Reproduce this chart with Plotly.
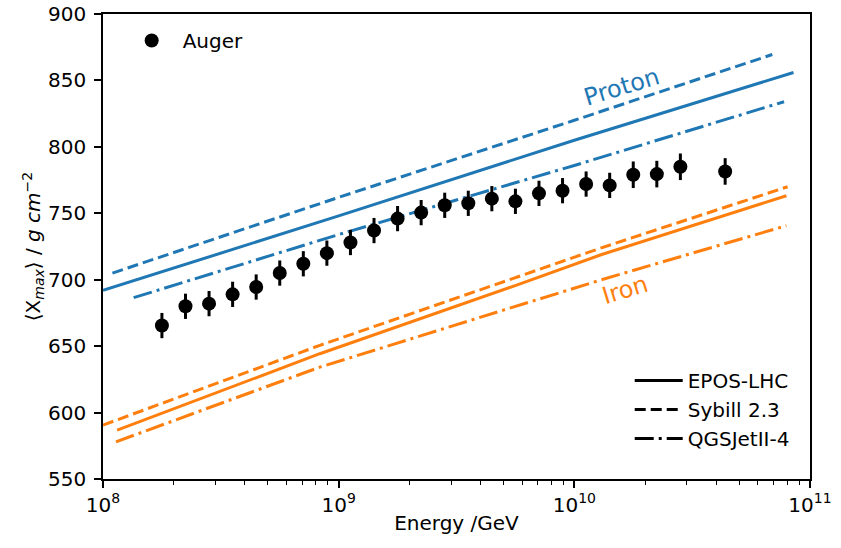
import numpy as np
import plotly.graph_objects as go

# Auger data
auger_logE = [8.25, 8.35, 8.45, 8.55, 8.65, 8.75, 8.85, 8.95, 9.05, 9.15, 9.25, 9.35,
              9.45, 9.55, 9.65, 9.75, 9.85, 9.95, 10.05, 10.15, 10.25, 10.35, 10.45, 10.64]
auger_xmax = [665.5, 680, 682, 689, 694.5, 705, 712, 720, 728, 737, 746, 750.5,
              756, 757.5, 761, 759, 765, 767, 772, 771, 779, 779.5, 785, 781.5]
auger_err = [9.5, 9.5, 9.5, 9.5, 9.5, 9.5, 9.5, 9.5, 9.5, 9.5, 9.5, 9.5,
             9.5, 9.5, 9.5, 9.5, 9.5, 9.5, 9.5, 9.5, 10, 10, 10, 10]

# Model predictions (log10 E/GeV, <Xmax>)
p_epos_logE = [8.0, 9.0, 10.0, 10.93]
p_epos_x = [692, 748, 805, 856]
p_sib_logE = [8.04, 9.0, 10.0, 10.84]
p_sib_x = [705, 762, 820, 869.5]
p_qgs_logE = [8.13, 9.0, 10.0, 10.89]
p_qgs_x = [686.5, 734, 786, 834]

fe_epos_logE = [8.06, 8.92, 9.755, 10.11, 10.90]
fe_epos_x = [586.8, 644.3, 695.9, 718.6, 763.2]
fe_sib_logE = [8.0, 8.92, 10.11, 10.905]
fe_sib_x = [590.6, 650.6, 723.7, 770]
fe_qgs_logE = [8.055, 8.92, 10.11, 10.90]
fe_qgs_x = [578, 634.2, 699.7, 740.7]

BLUE = "#1f77b4"
ORANGE = "#ff7f0e"
DASH = "11px,5px"
DASHDOT = "19px,5px,3px,5px"
LW = 3

fig = go.Figure()

def E(lst):
    return [10 ** v for v in lst]

for lx, ly, color, dash in [
    (p_epos_logE, p_epos_x, BLUE, "solid"),
    (p_sib_logE, p_sib_x, BLUE, DASH),
    (p_qgs_logE, p_qgs_x, BLUE, DASHDOT),
    (fe_epos_logE, fe_epos_x, ORANGE, "solid"),
    (fe_sib_logE, fe_sib_x, ORANGE, DASH),
    (fe_qgs_logE, fe_qgs_x, ORANGE, DASHDOT),
]:
    fig.add_trace(go.Scatter(x=E(lx), y=ly, mode="lines",
                             line=dict(color=color, width=LW, dash=dash),
                             showlegend=False, hoverinfo="skip"))

fig.add_trace(go.Scatter(
    x=E(auger_logE), y=auger_xmax, mode="markers", name="Auger",
    marker=dict(color="black", size=14, symbol="circle"),
    error_y=dict(type="data", array=auger_err, color="black", thickness=3, width=0),
    legend="legend"))

for name, dash in [("EPOS-LHC", "solid"), ("Sybill 2.3", DASH), ("QGSJetII-4", DASHDOT)]:
    fig.add_trace(go.Scatter(x=[None], y=[None], mode="lines", name=name,
                             line=dict(color="black", width=LW, dash=dash),
                             legend="legend2"))

fig.add_annotation(x=10.20, y=845, text="Proton", showarrow=False, textangle=-17,
                   font=dict(color=BLUE, size=24, family="DejaVu Sans"))
fig.add_annotation(x=10.215, y=692, text="Iron", showarrow=False, textangle=-17,
                   font=dict(color=ORANGE, size=24, family="DejaVu Sans"))

minor_vals = [m * 10 ** d for d in range(8, 11) for m in range(2, 10)]

fig.update_layout(
    width=841, height=548,
    margin=dict(l=103, r=31, t=14, b=69, autoexpand=False),
    paper_bgcolor="white", plot_bgcolor="white",
    font=dict(family="DejaVu Sans", size=20, color="black"),
    xaxis=dict(type="log", range=[8, 11], showgrid=False, zeroline=False, automargin=False,
               showline=True, linecolor="black", linewidth=1.6, mirror=True,
               ticks="outside", ticklen=7, tickwidth=1.6, tickcolor="black",
               tickfont=dict(size=20), ticklabelstandoff=0,
               tickmode="array", tickvals=[1e8, 1e9, 1e10, 1e11],
               ticktext=["10<sup>8</sup>", "10<sup>9</sup>", "10<sup>10</sup>", "10<sup>11</sup>"],
               minor=dict(tickmode="array", tickvals=minor_vals, ticks="outside",
                          ticklen=4, tickwidth=1.2, tickcolor="black", showgrid=False),
               title=dict(text="Energy /GeV", standoff=0, font=dict(size=20))),
    yaxis=dict(range=[550, 900], showgrid=False, zeroline=False, automargin=False,
               showline=True, linecolor="black", linewidth=1.6, mirror=True,
               ticks="outside", ticklen=7, tickwidth=1.6, tickcolor="black",
               tickfont=dict(size=20), ticklabelstandoff=4,
               tickmode="array", tickvals=list(range(550, 901, 50)),
               title=dict(text="⟨X<sub><i>max</i></sub>⟩ / <i>g cm</i><sup>−2</sup>",
                          standoff=2, font=dict(size=20))),
    legend=dict(x=0.025, y=0.985, xanchor="left", yanchor="top", itemwidth=52,
                bgcolor="rgba(0,0,0,0)", font=dict(size=20)),
    legend2=dict(x=0.745, y=0.045, xanchor="left", yanchor="bottom", itemwidth=48,
                 bgcolor="rgba(0,0,0,0)", font=dict(size=20)),
)

fig.write_html("out.html")
